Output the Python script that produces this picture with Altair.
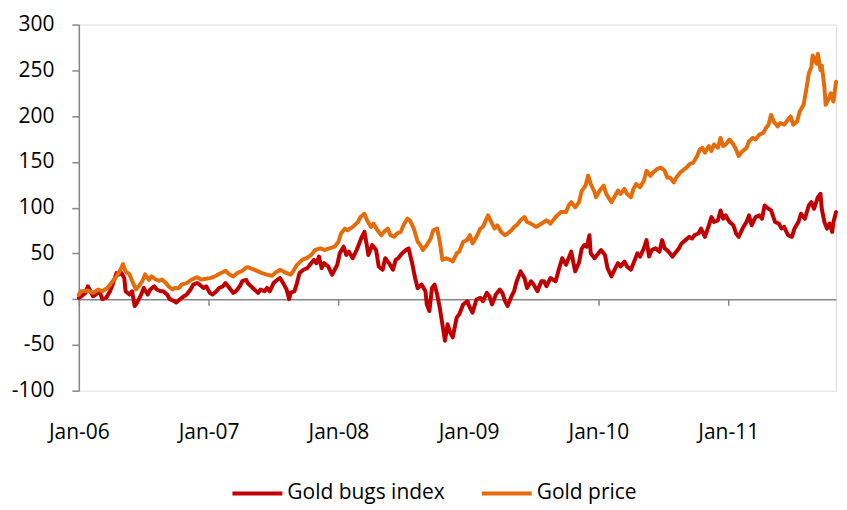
import math
import altair as alt
import pandas as pd

# ---- data (decimal years, index value) ----
gold_price_t = [
    2006.00, 2006.02, 2006.07, 2006.11, 2006.15, 2006.18, 2006.22, 2006.25, 2006.29, 2006.32,
    2006.34, 2006.36, 2006.39, 2006.41, 2006.44, 2006.46, 2006.49, 2006.51, 2006.54, 2006.56,
    2006.59, 2006.62, 2006.64, 2006.67, 2006.69, 2006.72, 2006.74, 2006.77, 2006.79, 2006.83,
    2006.87, 2006.91, 2006.94, 2006.98, 2007.01, 2007.05, 2007.08, 2007.13, 2007.16, 2007.19,
    2007.22, 2007.26, 2007.29, 2007.30, 2007.34, 2007.38, 2007.41, 2007.45, 2007.49, 2007.51,
    2007.55, 2007.59, 2007.63, 2007.65, 2007.68, 2007.72, 2007.76, 2007.79, 2007.82, 2007.86,
    2007.89, 2007.93, 2007.97, 2008.00, 2008.02, 2008.05, 2008.07, 2008.11, 2008.15, 2008.17,
    2008.20, 2008.22, 2008.25, 2008.27, 2008.30, 2008.33, 2008.35, 2008.38, 2008.40, 2008.43,
    2008.45, 2008.48, 2008.50, 2008.53, 2008.55, 2008.58, 2008.61, 2008.63, 2008.65, 2008.68,
    2008.71, 2008.73, 2008.76, 2008.78, 2008.80, 2008.83, 2008.86, 2008.88, 2008.91, 2008.93,
    2008.96, 2008.99, 2009.01, 2009.03, 2009.06, 2009.09, 2009.11, 2009.15, 2009.18, 2009.20,
    2009.22, 2009.25, 2009.28, 2009.30, 2009.33, 2009.35, 2009.37, 2009.40, 2009.43, 2009.45,
    2009.48, 2009.52, 2009.54, 2009.58, 2009.60, 2009.63, 2009.67, 2009.71, 2009.75, 2009.77,
    2009.79, 2009.82, 2009.85, 2009.87, 2009.90, 2009.92, 2009.94, 2009.97, 2009.98, 2010.01,
    2010.04, 2010.06, 2010.10, 2010.13, 2010.15, 2010.17, 2010.20, 2010.22, 2010.25, 2010.27,
    2010.29, 2010.32, 2010.35, 2010.37, 2010.40, 2010.42, 2010.45, 2010.48, 2010.51, 2010.53,
    2010.55, 2010.58, 2010.60, 2010.63, 2010.66, 2010.68, 2010.70, 2010.73, 2010.76, 2010.78,
    2010.80, 2010.82, 2010.85, 2010.87, 2010.89, 2010.92, 2010.94, 2010.96, 2010.98, 2011.01,
    2011.04, 2011.06, 2011.08, 2011.11, 2011.14, 2011.16, 2011.19, 2011.21, 2011.24, 2011.27,
    2011.29, 2011.31, 2011.33, 2011.35, 2011.38, 2011.40, 2011.43, 2011.46, 2011.48, 2011.50,
    2011.53, 2011.55, 2011.58, 2011.60, 2011.62, 2011.64, 2011.65, 2011.68, 2011.69, 2011.71,
    2011.72, 2011.74, 2011.75, 2011.77, 2011.79, 2011.81, 2011.83,
]
gold_price_v = [
    5.0, 8.6, 9.4, 6.8, 10.5, 8.6, 12.2, 17.6, 24.9, 32.0,
    38.2, 30.3, 27.0, 20.0, 10.5, 14.0, 20.0, 27.0, 21.0, 25.0,
    21.5, 20.0, 21.5, 17.6, 14.0, 10.5, 12.2, 12.0, 15.8, 17.6,
    21.5, 24.0, 21.5, 22.3, 23.0, 24.9, 27.4, 31.0, 27.0, 24.9,
    28.5, 31.0, 34.6, 34.9, 32.8, 30.3, 28.5, 26.7, 25.6, 28.5,
    32.1, 29.2, 26.7, 30.3, 37.5, 42.9, 45.4, 48.3, 53.7, 55.5,
    53.7, 55.5, 57.3, 62.7, 71.7, 77.1, 75.3, 78.9, 84.3, 89.7,
    93.3, 86.1, 78.9, 82.5, 75.3, 69.9, 73.5, 77.1, 69.9, 68.1,
    71.7, 73.5, 80.7, 87.9, 86.0, 77.1, 62.7, 59.1, 53.7, 59.1,
    66.3, 75.3, 77.1, 62.7, 42.9, 44.7, 42.9, 41.1, 50.1, 51.9,
    62.7, 64.5, 69.9, 60.9, 68.1, 77.1, 78.9, 91.5, 82.5, 77.1,
    80.7, 73.5, 69.9, 71.7, 75.3, 78.9, 80.7, 86.1, 89.7, 84.3,
    82.5, 78.9, 80.7, 84.3, 86.1, 82.5, 89.7, 95.1, 95.1, 102.3,
    105.9, 100.5, 106.0, 118.0, 124.0, 135.0, 125.8, 116.8, 111.4, 118.6,
    124.0, 115.0, 105.9, 113.2, 118.6, 115.0, 120.4, 115.0, 111.4, 120.4,
    125.8, 122.2, 129.4, 140.2, 134.8, 138.4, 142.0, 143.8, 140.2, 133.0,
    133.0, 127.6, 133.0, 138.4, 142.0, 143.8, 147.4, 149.2, 156.4, 163.6,
    165.4, 160.0, 167.2, 161.8, 169.0, 165.4, 176.2, 167.2, 169.0, 174.4,
    169.0, 163.6, 156.4, 161.8, 165.0, 172.6, 176.2, 174.4, 179.8, 181.6,
    187.0, 190.6, 201.4, 194.2, 188.8, 192.4, 190.6, 196.0, 199.6, 190.6,
    194.2, 205.0, 212.3, 228.5, 246.5, 253.7, 266.3, 257.3, 268.1, 250.1,
    255.0, 232.1, 212.3, 217.7, 224.9, 215.9, 237.5,
]

gold_bugs_t = [
    2006.00, 2006.02, 2006.05, 2006.07, 2006.09, 2006.11, 2006.13, 2006.16, 2006.18, 2006.21,
    2006.24, 2006.26, 2006.29, 2006.31, 2006.33, 2006.35, 2006.36, 2006.39, 2006.41, 2006.43,
    2006.45, 2006.48, 2006.50, 2006.53, 2006.55, 2006.58, 2006.60, 2006.63, 2006.65, 2006.68,
    2006.70, 2006.73, 2006.75, 2006.78, 2006.81, 2006.83, 2006.86, 2006.88, 2006.91, 2006.93,
    2006.96, 2006.98, 2007.01, 2007.03, 2007.06, 2007.08, 2007.11, 2007.13, 2007.16, 2007.19,
    2007.21, 2007.24, 2007.26, 2007.29, 2007.30, 2007.34, 2007.38, 2007.40, 2007.43, 2007.45,
    2007.47, 2007.50, 2007.53, 2007.55, 2007.58, 2007.60, 2007.62, 2007.63, 2007.66, 2007.68,
    2007.70, 2007.73, 2007.76, 2007.78, 2007.81, 2007.83, 2007.85, 2007.87, 2007.89, 2007.92,
    2007.95, 2007.97, 2007.99, 2008.01, 2008.04, 2008.06, 2008.08, 2008.11, 2008.14, 2008.16,
    2008.18, 2008.20, 2008.22, 2008.23, 2008.26, 2008.29, 2008.31, 2008.34, 2008.36, 2008.39,
    2008.42, 2008.44, 2008.46, 2008.49, 2008.52, 2008.54, 2008.57, 2008.59, 2008.61, 2008.64,
    2008.67, 2008.68, 2008.70, 2008.72, 2008.74, 2008.76, 2008.78, 2008.80, 2008.82, 2008.84,
    2008.86, 2008.88, 2008.91, 2008.93, 2008.96, 2008.99, 2009.01, 2009.03, 2009.06, 2009.09,
    2009.11, 2009.14, 2009.16, 2009.18, 2009.21, 2009.24, 2009.26, 2009.28, 2009.30, 2009.33,
    2009.35, 2009.37, 2009.40, 2009.43, 2009.45, 2009.48, 2009.50, 2009.53, 2009.56, 2009.58,
    2009.60, 2009.63, 2009.67, 2009.69, 2009.72, 2009.75, 2009.77, 2009.79, 2009.82, 2009.85,
    2009.87, 2009.89, 2009.91, 2009.93, 2009.94, 2009.97, 2010.00, 2010.02, 2010.05, 2010.07,
    2010.10, 2010.13, 2010.15, 2010.17, 2010.20, 2010.22, 2010.25, 2010.28, 2010.30, 2010.32,
    2010.35, 2010.37, 2010.39, 2010.41, 2010.44, 2010.47, 2010.49, 2010.51, 2010.54, 2010.57,
    2010.59, 2010.62, 2010.64, 2010.67, 2010.70, 2010.72, 2010.74, 2010.77, 2010.79, 2010.82,
    2010.85, 2010.87, 2010.89, 2010.92, 2010.94, 2010.96, 2010.98, 2011.01, 2011.04, 2011.06,
    2011.08, 2011.11, 2011.14, 2011.16, 2011.18, 2011.21, 2011.24, 2011.26, 2011.28, 2011.31,
    2011.33, 2011.36, 2011.39, 2011.41, 2011.43, 2011.46, 2011.49, 2011.51, 2011.54, 2011.56,
    2011.59, 2011.62, 2011.64, 2011.66, 2011.69, 2011.71, 2011.72, 2011.74, 2011.76, 2011.78,
    2011.80, 2011.81, 2011.83,
]
gold_bugs_v = [
    1.4, 3.2, 6.8, 14.0, 8.6, 3.2, 5.0, 8.6, 0.0, 1.4,
    8.6, 15.8, 28.5, 27.0, 28.5, 23.0, 8.6, 5.0, 8.6, -7.6,
    -3.6, 5.0, 12.2, 5.0, 10.5, 14.0, 10.5, 8.6, 8.6, 5.0,
    0.0, -1.8, -3.6, 0.0, 3.2, 5.0, 10.5, 15.8, 17.6, 15.8,
    12.2, 14.0, 6.8, 5.0, 8.6, 12.2, 14.0, 17.6, 12.2, 6.8,
    8.6, 14.0, 20.0, 21.0, 17.6, 12.2, 6.8, 10.5, 8.6, 12.2,
    8.6, 17.6, 21.3, 23.1, 15.9, 10.5, 0.0, 6.8, 8.6, 17.6,
    28.5, 32.1, 33.9, 37.5, 42.9, 39.3, 46.5, 33.9, 39.3, 35.7,
    26.7, 32.1, 37.5, 50.1, 57.3, 48.3, 51.9, 44.7, 53.7, 60.9,
    68.1, 73.5, 57.3, 48.3, 59.1, 53.7, 35.7, 32.1, 44.7, 39.3,
    32.1, 42.9, 44.7, 50.1, 53.7, 55.5, 37.5, 23.1, 12.0, 15.9,
    8.6, -5.8, -13.0, 12.2, 15.9, 5.0, -9.4, -27.4, -45.4, -27.4,
    -36.4, -41.8, -20.2, -16.6, -5.8, -2.2, -9.4, -14.8, -0.4, 1.4,
    -2.2, 6.8, 3.2, -5.8, 5.0, 10.5, 6.8, -2.2, -7.6, 3.2,
    8.6, 19.5, 30.3, 23.1, 12.2, 19.5, 15.9, 8.6, 19.5, 19.5,
    14.1, 23.1, 19.5, 30.3, 44.7, 37.5, 44.7, 51.9, 30.3, 40.0,
    55.0, 59.1, 57.3, 69.9, 50.1, 44.7, 50.1, 53.7, 48.3, 33.9,
    24.9, 33.9, 39.3, 35.7, 41.1, 35.7, 32.1, 42.9, 50.1, 46.5,
    55.5, 64.5, 46.5, 53.7, 55.5, 51.9, 64.5, 55.5, 51.9, 46.5,
    50.1, 55.5, 60.9, 64.5, 68.1, 66.3, 69.9, 71.7, 77.1, 68.1,
    80.7, 89.7, 84.3, 86.1, 96.9, 87.9, 91.5, 84.3, 80.7, 71.7,
    68.1, 77.1, 84.3, 91.5, 80.7, 89.7, 91.5, 87.9, 102.3, 98.7,
    97.0, 84.3, 82.5, 77.1, 78.9, 69.9, 68.1, 77.1, 84.3, 93.3,
    87.9, 102.3, 105.9, 98.7, 111.4, 115.0, 98.7, 84.3, 77.1, 82.5,
    73.5, 84.3, 95.1,
]

series_names = ["Gold bugs index", "Gold price"]
series_colors = ["#C00000", "#E46C0A"]
y_ticks = [-100, -50, 0, 50, 100, 150, 200, 250, 300]
x_tick_years = [2006, 2007, 2008, 2009, 2010, 2011]


def to_date(t):
    year = int(math.floor(t))
    start = pd.Timestamp(year=year, month=1, day=1)
    return (start + pd.Timedelta(days=(t - year) * 365.25)).strftime("%Y-%m-%dT%H:%M:%S")


rows = []
for name, ts, vs in [(series_names[0], gold_bugs_t, gold_bugs_v),
                     (series_names[1], gold_price_t, gold_price_v)]:
    for t, v in zip(ts, vs):
        rows.append({"date": to_date(t), "value": v, "series": name})
df = pd.DataFrame(rows)

FONT = "Open Sans"
AXIS_GREY = "#868686"
PLOT_H = 367

chart = (
    alt.Chart(df)
    .mark_line(strokeWidth=4, strokeJoin="round", strokeCap="round")
    .encode(
        x=alt.X(
            "date:T",
            title=None,
            scale=alt.Scale(domain=[alt.DateTime(year=2006, month=1, date=1),
                                    alt.DateTime(year=2011, month=10, date=31)]),
            axis=alt.Axis(
                values=[alt.DateTime(year=y, month=1, date=1) for y in x_tick_years],
                format="%b-%y",
                offset=-PLOT_H / 4,
                grid=False,
                domainColor=AXIS_GREY,
                domainWidth=1.5,
                tickColor=AXIS_GREY,
                tickWidth=1.5,
                tickSize=6,
                labelPadding=117,
                labelFont=FONT,
                labelFontSize=21,
                labelColor="#000000",
                labelAlign="center",
                labelBaseline="top",
                labelFlush=False,
                labelOverlap=False,
            ),
        ),
        y=alt.Y(
            "value:Q",
            title=None,
            scale=alt.Scale(domain=[-100, 300], nice=False, zero=False),
            axis=alt.Axis(
                values=y_ticks,
                labelExpr="'' + datum.value",
                grid=False,
                domainColor=AXIS_GREY,
                domainWidth=1.5,
                tickColor=AXIS_GREY,
                tickWidth=1.5,
                tickSize=7,
                labelPadding=18,
                labelFont=FONT,
                labelFontSize=21,
                labelColor="#000000",
            ),
        ),
        color=alt.Color(
            "series:N",
            scale=alt.Scale(domain=series_names, range=series_colors),
            sort=series_names,
            legend=alt.Legend(
                title=None,
                orient="none",
                legendX=168,
                legendY=459,
                direction="horizontal",
                symbolType="M-2.78,0H2.78",
                symbolSize=324,
                symbolStrokeWidth=4,
                symbolFillColor="transparent",
                labelFont=FONT,
                labelFontSize=21,
                labelColor="#000000",
                labelOffset=19,
                columnPadding=28,
                padding=0,
            ),
        ),
        order=alt.Order("series:N"),
    )
    .properties(
        width=759,
        height=PLOT_H,
        padding={"left": 3, "top": 5, "right": 0, "bottom": 0},
    )
    .configure_view(stroke=None)
    .configure(background="white")
)

chart.save("out.html", embed_options={"renderer": "svg", "actions": False})
